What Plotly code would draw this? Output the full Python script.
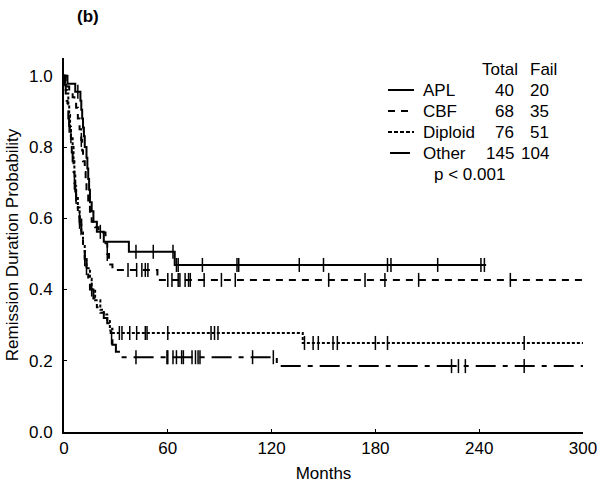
import plotly.graph_objects as go

# Kaplan-Meier step points (months, survival) per group
apl_t = [0, 2, 6.5, 9.5, 10, 10.5, 11, 11.5, 12, 13, 13.5, 14, 14.5, 15, 16, 17, 19, 23, 37.5, 64, 244]
apl_s = [1.0, 0.978, 0.955, 0.93, 0.905, 0.88, 0.855, 0.83, 0.80, 0.77, 0.74, 0.71, 0.68, 0.645, 0.62, 0.59, 0.562, 0.534, 0.506, 0.469, 0.469]
apl_cens = [8, 21, 41.6, 51.6, 63, 65, 66, 80, 100, 101, 136, 150, 187, 189, 216, 241, 243]

cbf_t = [0, 1, 2, 3, 5, 6, 7, 8, 9, 10, 10.5, 11, 12, 12.5, 13, 14, 15, 16, 18, 20, 24, 25, 26, 28, 54, 300]
cbf_s = [1.0, 0.985, 0.97, 0.955, 0.94, 0.925, 0.91, 0.88, 0.85, 0.82, 0.79, 0.76, 0.73, 0.70, 0.67, 0.64, 0.61, 0.59, 0.575, 0.56, 0.53, 0.50, 0.47, 0.455, 0.427, 0.427]
cbf_cens = [10, 25, 37, 42, 45, 47, 48.5, 60, 62.4, 66, 67, 70, 72, 73, 81, 91, 99, 153, 174, 185.5, 205, 258]

dip_t = [0, 0.5, 1, 1.7, 2.5, 3, 3.5, 4, 5, 5.5, 6, 6.5, 7, 8, 9, 10, 11, 12, 13, 15, 16, 18, 21, 23, 25, 26.5, 28, 138, 300]
dip_s = [1.0, 0.98, 0.96, 0.95, 0.92, 0.89, 0.857, 0.83, 0.80, 0.76, 0.72, 0.69, 0.66, 0.63, 0.60, 0.56, 0.525, 0.49, 0.46, 0.43, 0.40, 0.37, 0.343, 0.33, 0.315, 0.29, 0.278, 0.25, 0.25]
dip_cens = [4, 7, 9, 13, 32, 33.5, 38, 42, 47, 48, 60, 85, 87, 89, 139, 144, 147, 155.5, 158, 180, 187, 266]

oth_t = [0, 0.5, 1, 1.5, 2, 2.5, 3, 3.5, 4, 4.5, 5, 5.5, 6, 6.5, 7, 8, 9, 10, 11, 12, 13, 14, 15, 17, 19, 21, 23, 25, 26, 27, 28, 30, 33, 123, 300]
oth_s = [1.0, 0.975, 0.95, 0.93, 0.905, 0.88, 0.86, 0.835, 0.81, 0.785, 0.76, 0.73, 0.70, 0.675, 0.65, 0.62, 0.59, 0.555, 0.52, 0.485, 0.455, 0.43, 0.40, 0.375, 0.35, 0.335, 0.32, 0.305, 0.285, 0.265, 0.245, 0.225, 0.21, 0.185, 0.185]
oth_cens = [3, 6, 9, 12, 16, 27.5, 41.6, 59.5, 60, 63, 65, 68, 69, 74, 76, 77.5, 78.6, 109, 121, 224, 228, 232, 266]

groups = ["APL", "CBF", "Diploid", "Other"]
totals = [40, 68, 76, 145]
fails = [20, 35, 51, 104]
dashes = ["solid", "7px,6px", "3px,2px", "20px,7px,5px,7px"]
legend_dashes = ["solid", "7px,6px", "4px,2px", "solid"]

series = [
    (apl_t, apl_s, apl_cens),
    (cbf_t, cbf_s, cbf_cens),
    (dip_t, dip_s, dip_cens),
    (oth_t, oth_s, oth_cens),
]


def surv_at(t, times, surv):
    val = surv[0]
    for ti, si in zip(times, surv):
        if ti <= t:
            val = si
        else:
            break
    return val


fig = go.Figure()
for name, (t, s, c), dash in zip(groups, series, dashes):
    fig.add_trace(
        go.Scatter(
            x=t, y=s, mode="lines", name=name, line_shape="hv",
            line={"color": "black", "width": 2, "dash": dash},
            showlegend=False,
        )
    )
    fig.add_trace(
        go.Scatter(
            x=c, y=[surv_at(ci, t, s) for ci in c], mode="markers",
            marker={"symbol": "line-ns-open", "size": 10, "color": "black",
                    "line": {"color": "black", "width": 1.5}},
            showlegend=False, hoverinfo="skip",
        )
    )

font = {"family": "Liberation Sans, Arial, sans-serif", "size": 17, "color": "black"}
title_font = {"family": "Liberation Sans, Arial, sans-serif", "size": 17, "color": "black"}

# plot area spans x 64..583 and y 58..432 in page pixels
def px(x):
    return (x - 64) / 519


def py(y):
    return (432 - y) / 374


row_y = [90, 111, 132, 153]
ann = [
    dict(text="<b>(b)</b>", x=88, y=16),
    dict(text="Total", x=500, y=69),
    dict(text="Fail", x=543, y=69),
    dict(text="p < 0.001", x=469, y=174),
]
annotations = []
for a in ann:
    annotations.append(dict(
        text=a["text"], xref="paper", yref="paper", showarrow=False,
        x=px(a["x"]), y=py(a["y"]), xanchor="center", yanchor="middle", font=font,
    ))
shapes = []
for i, name in enumerate(groups):
    yy = py(row_y[i])
    annotations.append(dict(text=name, xref="paper", yref="paper", showarrow=False,
                            x=px(421), y=yy, xanchor="left", yanchor="middle", font=font))
    annotations.append(dict(text=str(totals[i]), xref="paper", yref="paper", showarrow=False,
                            x=px(516), y=yy, xanchor="right", yanchor="middle", font=font))
    annotations.append(dict(text=str(fails[i]), xref="paper", yref="paper", showarrow=False,
                            x=px(551), y=yy, xanchor="right", yanchor="middle", font=font))
    x0, x1 = px(388), px(414)
    if i == 3:
        x0, x1 = px(390), px(410)
    shapes.append(dict(type="line", xref="paper", yref="paper", x0=x0, x1=x1, y0=yy, y1=yy,
                       line={"color": "black", "width": 2, "dash": legend_dashes[i]}))

fig.update_layout(
    width=600, height=490,
    margin={"l": 64, "r": 17, "t": 58, "b": 58, "autoexpand": False},
    paper_bgcolor="white", plot_bgcolor="white",
    font=font,
    annotations=annotations,
    shapes=shapes,
    xaxis={
        "range": [0, 300], "tickvals": [0, 60, 120, 180, 240, 300], "automargin": False,
        "showgrid": False, "zeroline": False, "showline": True, "linewidth": 2, "linecolor": "black",
        "ticks": "inside", "ticklen": 3, "tickcolor": "black", "tickfont": font,
        "title": {"text": "Months", "font": title_font, "standoff": 10},
    },
    yaxis={
        "range": [0, 1.05], "tickvals": [0, 0.2, 0.4, 0.6, 0.8, 1.0], "tickformat": ".1f",
        "automargin": False,
        "showgrid": False, "zeroline": False, "showline": True, "linewidth": 2, "linecolor": "black",
        "ticks": "inside", "ticklen": 3, "tickcolor": "black", "tickfont": font,
        "ticklabelstandoff": 6,
        "title": {"text": "Remission Duration Probability", "font": title_font, "standoff": 6},
    },
)

# drop the default page margin so the figure sits at the window origin
fig.write_html(
    "out.html",
    config={"displayModeBar": False},
    post_script="document.body.style.margin='0';document.body.style.overflow='hidden';",
)
